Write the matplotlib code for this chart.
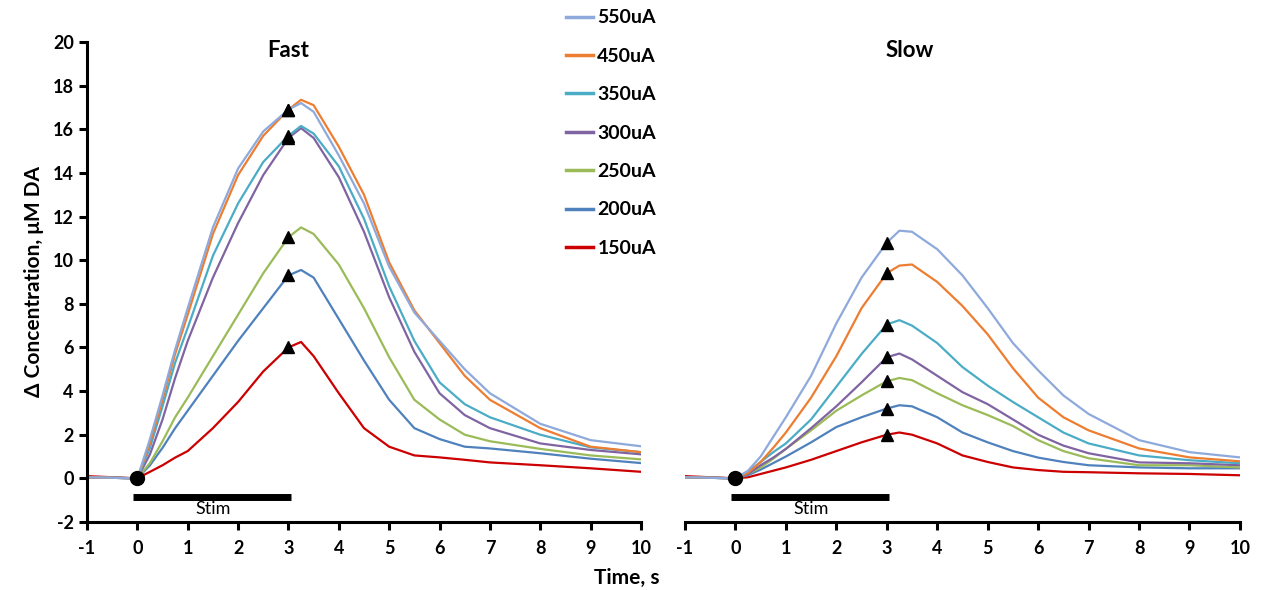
import matplotlib
matplotlib.use('Agg')
import matplotlib.pyplot as plt
from matplotlib.lines import Line2D

plt.rcParams['font.family'] = ['Lato', 'DejaVu Sans']
plt.rcParams['axes.unicode_minus'] = False

# time points (s)
t = [-1, 0, 0.25, 0.5, 0.75, 1, 1.5, 2, 2.5, 3, 3.25, 3.5, 4, 4.5, 5, 5.5, 6, 6.5, 7, 8, 9, 10]

labels = ['550uA', '450uA', '350uA', '300uA', '250uA', '200uA', '150uA']
colors = ['#8EA9DB', '#ED7D31', '#4BACC6', '#8064A2', '#9BBB59', '#4F81BD', '#CC0000']

# Fast
fast_550 = [0.05, 0, 1.8, 3.8, 5.9, 7.8, 11.5, 14.2, 15.9, 16.9, 17.2, 16.8, 14.8, 12.6, 9.7, 7.6, 6.3, 5.0, 3.9, 2.5, 1.75, 1.47]
fast_450 = [0.05, 0, 1.6, 3.6, 5.7, 7.5, 11.2, 13.9, 15.7, 16.9, 17.35, 17.1, 15.2, 13.0, 9.9, 7.7, 6.2, 4.7, 3.6, 2.3, 1.45, 1.2]
fast_350 = [0.05, 0, 1.4, 3.3, 5.3, 6.9, 10.2, 12.6, 14.5, 15.7, 16.15, 15.8, 14.3, 11.9, 8.8, 6.3, 4.4, 3.4, 2.8, 2.0, 1.42, 1.2]
fast_300 = [0.05, 0, 1.1, 2.7, 4.6, 6.3, 9.2, 11.7, 13.9, 15.6, 16.05, 15.6, 13.8, 11.3, 8.3, 5.8, 3.9, 2.9, 2.3, 1.6, 1.3, 1.1]
fast_250 = [0.05, 0, 0.7, 1.7, 2.8, 3.7, 5.6, 7.5, 9.4, 11.05, 11.5, 11.2, 9.8, 7.8, 5.55, 3.6, 2.7, 2.0, 1.7, 1.35, 1.05, 0.87]
fast_200 = [0.05, 0, 0.6, 1.4, 2.3, 3.1, 4.7, 6.3, 7.8, 9.3, 9.55, 9.2, 7.3, 5.4, 3.6, 2.3, 1.8, 1.45, 1.37, 1.15, 0.9, 0.7]
fast_150 = [0.1, 0, 0.3, 0.6, 0.95, 1.25, 2.3, 3.5, 4.9, 6.0, 6.25, 5.6, 3.9, 2.3, 1.45, 1.05, 0.96, 0.85, 0.73, 0.6, 0.46, 0.3]

# Slow
slow_550 = [0.05, 0, 0.35, 1.0, 1.9, 2.8, 4.7, 7.1, 9.2, 10.8, 11.35, 11.3, 10.5, 9.3, 7.8, 6.2, 4.95, 3.8, 2.95, 1.75, 1.2, 0.96]
slow_450 = [0.05, 0, 0.25, 0.75, 1.4, 2.1, 3.7, 5.6, 7.8, 9.4, 9.75, 9.8, 9.0, 7.9, 6.6, 5.05, 3.7, 2.8, 2.2, 1.37, 0.96, 0.78]
slow_350 = [0.05, 0, 0.3, 0.75, 1.2, 1.6, 2.7, 4.2, 5.7, 7.05, 7.25, 7.0, 6.2, 5.1, 4.25, 3.5, 2.8, 2.1, 1.6, 1.05, 0.83, 0.69]
slow_300 = [0.05, 0, 0.2, 0.6, 0.95, 1.35, 2.3, 3.3, 4.4, 5.55, 5.72, 5.45, 4.7, 3.95, 3.4, 2.7, 2.0, 1.5, 1.15, 0.73, 0.69, 0.6]
slow_250 = [0.05, 0, 0.2, 0.5, 0.9, 1.35, 2.2, 3.1, 3.8, 4.45, 4.6, 4.5, 3.9, 3.35, 2.9, 2.4, 1.75, 1.25, 0.92, 0.6, 0.6, 0.5]
slow_200 = [0.05, 0, 0.15, 0.4, 0.7, 1.0, 1.65, 2.35, 2.8, 3.2, 3.35, 3.3, 2.8, 2.1, 1.65, 1.25, 0.95, 0.75, 0.6, 0.5, 0.46, 0.46]
slow_150 = [0.1, 0, 0.05, 0.2, 0.35, 0.5, 0.85, 1.25, 1.65, 2.0, 2.1, 2.0, 1.6, 1.05, 0.75, 0.5, 0.38, 0.3, 0.28, 0.23, 0.2, 0.14]

fast = [fast_550, fast_450, fast_350, fast_300, fast_250, fast_200, fast_150]
slow = [slow_550, slow_450, slow_350, slow_300, slow_250, slow_200, slow_150]

stim_start, stim_end = 0, 3
i3 = t.index(3)

fig = plt.figure(figsize=(12.61, 5.90), dpi=100)
ax1 = fig.add_axes([0.069, 0.1153, 0.4393, 0.8136])
ax2 = fig.add_axes([0.5432, 0.1153, 0.4401, 0.8136])

for ax, data, title, tx in [(ax1, fast, 'Fast', 3.0), (ax2, slow, 'Slow', 3.45)]:
    for y, c in zip(data[::-1], colors[::-1]):
        ax.plot(t, y, color=c, lw=1.6)
    for y in data:
        ax.plot(3, y[i3], marker='^', color='black', ms=9, ls='none', zorder=5)
    ax.plot(0, 0, marker='o', color='black', ms=10, zorder=6)
    ax.plot([stim_start - 0.08, stim_end + 0.05], [-0.85, -0.85], color='black', lw=5,
            solid_capstyle='butt')
    ax.text(1.5, -1.4, 'Stim', ha='center', va='center', fontsize=13)
    ax.text(tx, 19.6, title, ha='center', va='center', fontsize=16, fontweight='bold')
    ax.set_xlim(-1, 10)
    ax.set_ylim(-2, 20)
    ax.set_xticks(range(-1, 11))
    ax.set_yticks(range(-2, 21, 2))
    ax.spines['top'].set_visible(False)
    ax.spines['right'].set_visible(False)
    for s in ['left', 'bottom']:
        ax.spines[s].set_linewidth(2.2)
    ax.tick_params(direction='out', length=6, width=2.2, labelsize=13)
    ax.tick_params(axis='x', pad=7)
    for lab in ax.get_xticklabels() + ax.get_yticklabels():
        lab.set_fontweight('bold')

ax2.spines['left'].set_visible(False)
ax2.tick_params(axis='y', left=False, labelleft=False)

ax1.set_ylabel('Δ Concentration, μM DA', fontsize=15, fontweight='bold', labelpad=6)
fig.text(0.497, 0.02, 'Time, s', ha='center', va='center', fontsize=15, fontweight='bold')

handles = [Line2D([], [], color=c, lw=2.5) for c in colors]
fig.legend(handles, labels, loc='upper left', bbox_to_anchor=(0.449, 0.984),
           frameon=False, prop={'weight': 'bold', 'size': 14},
           handlelength=1.4, handletextpad=0.2, labelspacing=1.1,
           borderpad=0, borderaxespad=0)

fig.savefig('out.png', dpi=100)
